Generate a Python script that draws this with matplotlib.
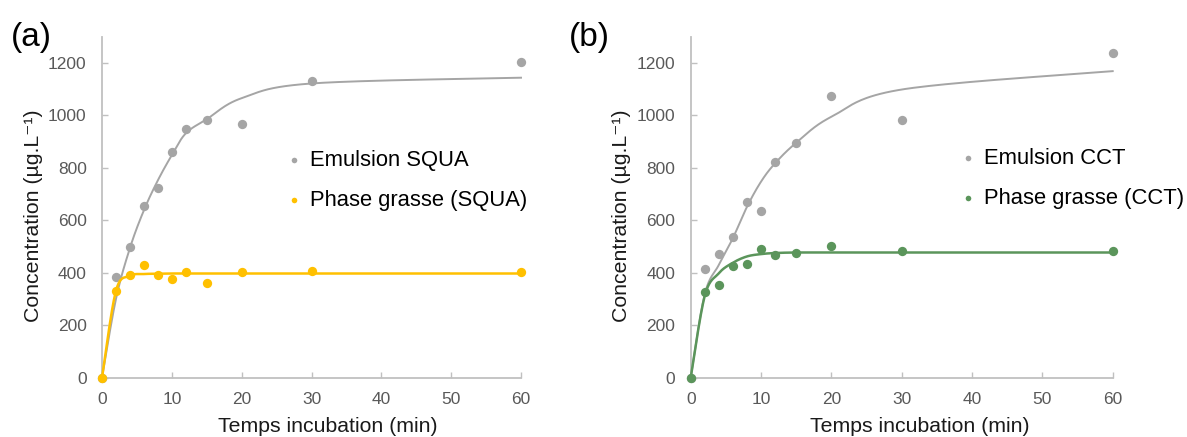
import matplotlib
matplotlib.use("Agg")
import matplotlib.pyplot as plt
import numpy as np

plt.rcParams['font.family'] = ['Liberation Sans', 'DejaVu Sans']

# time points (min)
temps = [0, 2, 4, 6, 8, 10, 12, 15, 20, 30, 60]

# panel (a) measured points
emul_squa = [0, 385, 499, 654, 721, 861, 946, 982, 965, 1129, 1203]
phase_squa = [0, 331, 391, 430, 391, 377, 401, 362, 401, 406, 401]
# panel (a) fitted curves, read at the time points
emul_squa_fit = [0, 300, 494, 638, 752, 848, 931, 985, 1065, 1121, 1143]
phase_squa_fit = [0, 331, 388, 395, 396, 397, 397, 397, 397, 397, 397]

# panel (b) measured points
emul_cct = [0, 413, 471, 536, 669, 635, 823, 893, 1074, 982, 1238]
phase_cct = [0, 328, 353, 427, 432, 491, 466, 476, 500, 481, 481]
# panel (b) fitted curves
emul_cct_fit = [0, 318, 430, 532, 651, 747, 817, 895, 994, 1098, 1168]
phase_cct_fit = [0, 312, 398, 438, 462, 471, 475, 477, 477, 477, 477]

GRAY = '#a5a5a5'
YELLOW = '#ffc000'
GREEN = '#5b955b'
SPINE = '#c0c0c0'
TICKTXT = '#595959'


def smooth_line(x, y, n=40):
    # bezier smoothing like a spreadsheet "smoothed line", done in screen-like units
    sx = np.asarray(x, float) / 60.0 * 419
    sy = np.asarray(y, float) / 1300.0 * 341
    pts = np.column_stack([sx, sy])
    out = [pts[0]]
    t = np.linspace(0, 1, n)[1:, None]
    for i in range(len(pts) - 1):
        p0 = pts[i - 1] if i > 0 else pts[i]
        p1 = pts[i]
        p2 = pts[i + 1]
        p3 = pts[i + 2] if i + 2 < len(pts) else pts[i + 1]
        c1 = p1 + (p2 - p0) / 6.0
        c2 = p2 - (p3 - p1) / 6.0
        seg = ((1 - t) ** 3) * p1 + 3 * ((1 - t) ** 2) * t * c1 + 3 * (1 - t) * t ** 2 * c2 + t ** 3 * p2
        out.extend(seg)
    out = np.array(out)
    return out[:, 0] * 60.0 / 419, out[:, 1] * 1300.0 / 341


def draw_panel(ax, emul, emul_fit, phase, phase_fit, col, lab1, lab2, xlab_x):
    fx, fy = smooth_line(temps, emul_fit)
    ax.plot(fx, fy, color=GRAY, lw=1.4, zorder=2, clip_on=False)
    h1 = ax.scatter(temps, emul, s=45, color=GRAY, zorder=3, clip_on=False, linewidths=0)
    fx, fy = smooth_line(temps, phase_fit)
    ax.plot(fx, fy, color=col, lw=1.8, zorder=4, clip_on=False)
    h2 = ax.scatter(temps, phase, s=45, color=col, zorder=5, clip_on=False, linewidths=0)

    ax.set_xlim(0, 60)
    ax.set_ylim(0, 1300)
    ax.set_xticks(np.arange(0, 61, 10))
    ax.set_yticks(np.arange(0, 1201, 200))
    for s in ['top', 'right']:
        ax.spines[s].set_visible(False)
    for s in ['left', 'bottom']:
        ax.spines[s].set_color(SPINE)
        ax.spines[s].set_linewidth(1.3)
    ax.tick_params(axis='both', direction='in', length=4, width=1, color=SPINE,
                   labelsize=12.5, labelcolor=TICKTXT)
    ax.tick_params(axis='y', pad=11)
    ax.tick_params(axis='x', pad=10)

    ax.set_xlabel('Temps incubation (min)', fontsize=15.3, color='#1a1a1a')
    ax.xaxis.set_label_coords(xlab_x, -0.116)
    ax.set_ylabel('Concentration (µg.L\u207b\u00b9)', fontsize=15.3, color='#1a1a1a')
    ax.yaxis.set_label_coords(-0.142, 0.474)

    leg = ax.legend([h1, h2], [lab1, lab2], frameon=False, fontsize=15.8, markerscale=0.6,
                    handlelength=0.4, handletextpad=0.5, labelspacing=0.85,
                    borderpad=0, loc='upper left')
    return leg


fig = plt.figure(figsize=(11.87, 4.37), dpi=100)
W, H = 1187.0, 437.0
ax1 = fig.add_axes([102 / W, 1 - 377.7 / H, 419 / W, 341.2 / H])
ax2 = fig.add_axes([690.7 / W, 1 - 377.7 / H, 422 / W, 341.2 / H])

leg1 = draw_panel(ax1, emul_squa, emul_squa_fit, phase_squa, phase_squa_fit, YELLOW,
                  'Emulsion SQUA', 'Phase grasse (SQUA)', 0.539)
leg1.set_bbox_to_anchor((279 / W, 1 - 139 / H), transform=fig.transFigure)
leg2 = draw_panel(ax2, emul_cct, emul_cct_fit, phase_cct, phase_cct_fit, GREEN,
                  'Emulsion CCT', 'Phase grasse (CCT)', 0.543)
leg2.set_bbox_to_anchor((953 / W, 1 - 137 / H), transform=fig.transFigure)

fig.text(11 / W, 1 - 37.5 / H, '(a)', fontsize=24, va='center', ha='left')
fig.text(569 / W, 1 - 37.5 / H, '(b)', fontsize=24, va='center', ha='left')

fig.savefig('out.png', dpi=100)
